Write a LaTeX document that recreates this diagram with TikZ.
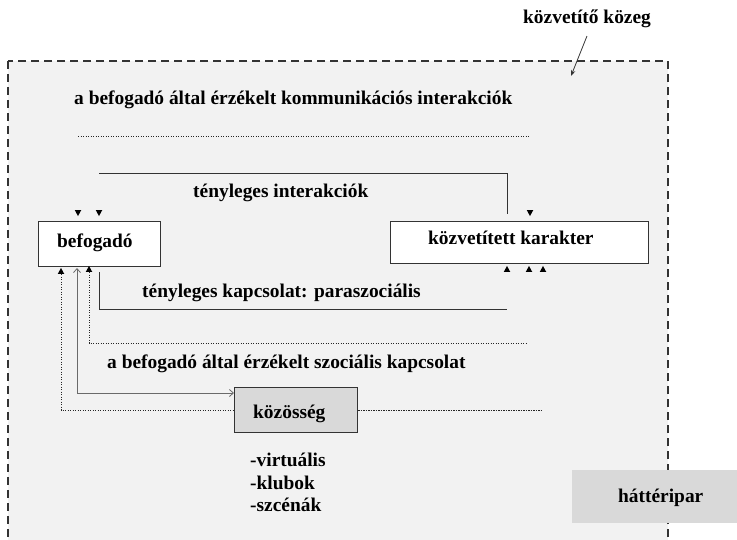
\documentclass[tikz,border=0pt]{standalone}
\usepackage{fontspec}
\setmainfont{Liberation Serif}
\usetikzlibrary{arrows.meta,shapes.geometric}
\definecolor{bgfill}{HTML}{F2F2F2}
\definecolor{boxgray}{HTML}{D9D9D9}
\definecolor{linec}{HTML}{333333}
\definecolor{greyline}{HTML}{6A6A6A}
\begin{document}
\begin{tikzpicture}[x=1pt,y=-1pt,
  txt/.style={inner sep=0pt, anchor=base west, font=\fontsize{19.4}{23}\selectfont\bfseries, text=black},
  boxnode/.style={draw=linec, line width=1.2pt, fill=white, inner sep=0pt, anchor=north west},
  ln/.style={draw=linec, line width=1pt},
  dotln/.style={draw=black!85, line width=1pt, dash pattern=on 1.3pt off 1.2pt},
  greyln/.style={draw=greyline, line width=0.8pt},
  tri/.style={isosceles triangle, isosceles triangle apex angle=60, isosceles triangle stretches,
     fill=black, draw=none, inner sep=0pt, minimum height=6pt, minimum width=6.5pt},
  tridown/.style={tri, shape border rotate=270},
  triup/.style={tri, shape border rotate=90}
]
\useasboundingbox (0,0) rectangle (737,539);
\clip (0,0) rectangle (737,539);
\fill[white] (0,0) rectangle (737,539);

% medium (dashed frame)
\draw[draw=linec, line width=1.2pt, dash pattern=on 8pt off 5pt, fill=bgfill] (8,61) rectangle (668,580);

% label of the medium and its arrow
\node[txt] (kozeg) at (523,23) {közvetítő közeg};
\coordinate (ka) at (587,36);
\coordinate (kb) at (571,76);
\draw[line width=0.8pt, draw=linec, -{Stealth[length=6pt,width=4.5pt]}] (ka) -- (kb);

% title and dotted line
\node[txt] (title) at (74,104) {a befogadó által érzékelt kommunikációs interakciók};
\coordinate (d1a) at (78,136);
\coordinate (d1b) at (530,136);
\draw[dotln] (d1a) -- (d1b);

% boxes
\node[boxnode, minimum width=122pt, minimum height=45pt] (bef) at (38,221) {};
\node[boxnode, minimum width=258pt, minimum height=42pt] (kar) at (390,221) {};
\node[boxnode, fill=boxgray, minimum width=123pt, minimum height=45pt] (koz) at (234,387) {};
\node[fill=boxgray, inner sep=0pt, anchor=north west, minimum width=170pt, minimum height=53pt] (hat) at (572,470) {};

\node[txt] (beft) at (57,247) {befogadó};
\node[txt] (kart) at (428,244) {közvetített karakter};
\node[txt] (kozt) at (253,418) {közösség};
\node[txt] (hatt) at (618,502) {háttéripar};

% actual interactions line
\coordinate (t1) at (99,173);
\coordinate (t2) at (507,173);
\coordinate (t3) at (507,214);
\draw[ln] (t1) -- (t2) -- (t3);
\node[txt] (tint) at (193,197) {tényleges interakciók};

% detached arrowheads
\node[tridown] (a1) at (78,212) {};
\node[tridown] (a2) at (99,212) {};
\node[tridown] (a3) at (530,212) {};
\node[triup] (b1) at (61,272) {};
\node[triup] (b2) at (89,270) {};
\node[triup] (c1) at (507,270) {};
\node[triup] (c2) at (529,270) {};
\node[triup] (c3) at (543,270) {};

% actual relation: parasocial
\coordinate (p1) at (99,272);
\coordinate (p2) at (99,309);
\coordinate (p3) at (507,309);
\draw[ln] (p1) -- (p2) -- (p3);
\node[txt] (tkap) at (142,297) {tényleges kapcsolat: paraszociális};

% perceived social relation (dotted)
\coordinate (s2) at (89,343);
\coordinate (s3) at (528,343);
\draw[dotln] (b2.south) -- (s2) -- (s3);
\node[txt] (szoc) at (107,368) {a befogadó által érzékelt szociális kapcsolat};

% community dotted line
\coordinate (q2) at (61,410);
\coordinate (q3) at (543,410);
\draw[dotln] (b1.south) -- (q2) -- (q2 -| koz.west);
\draw[dotln] (q2 -| koz.east) -- (q3);

% grey double arrow
\coordinate (g1) at (77,268);
\coordinate (g2) at (77,393);
\draw[greyln, {Straight Barb[length=4pt,width=7pt]}-{Straight Barb[length=4pt,width=7pt]}] (g1) -- (g2) -- (g2 -| koz.west);

% list
\node[txt] (l1) at (250,466) {-virtuális};
\node[txt] (l2) at (250,489) {-klubok};
\node[txt] (l3) at (250,511) {-szcénák};
\end{tikzpicture}
\end{document}
